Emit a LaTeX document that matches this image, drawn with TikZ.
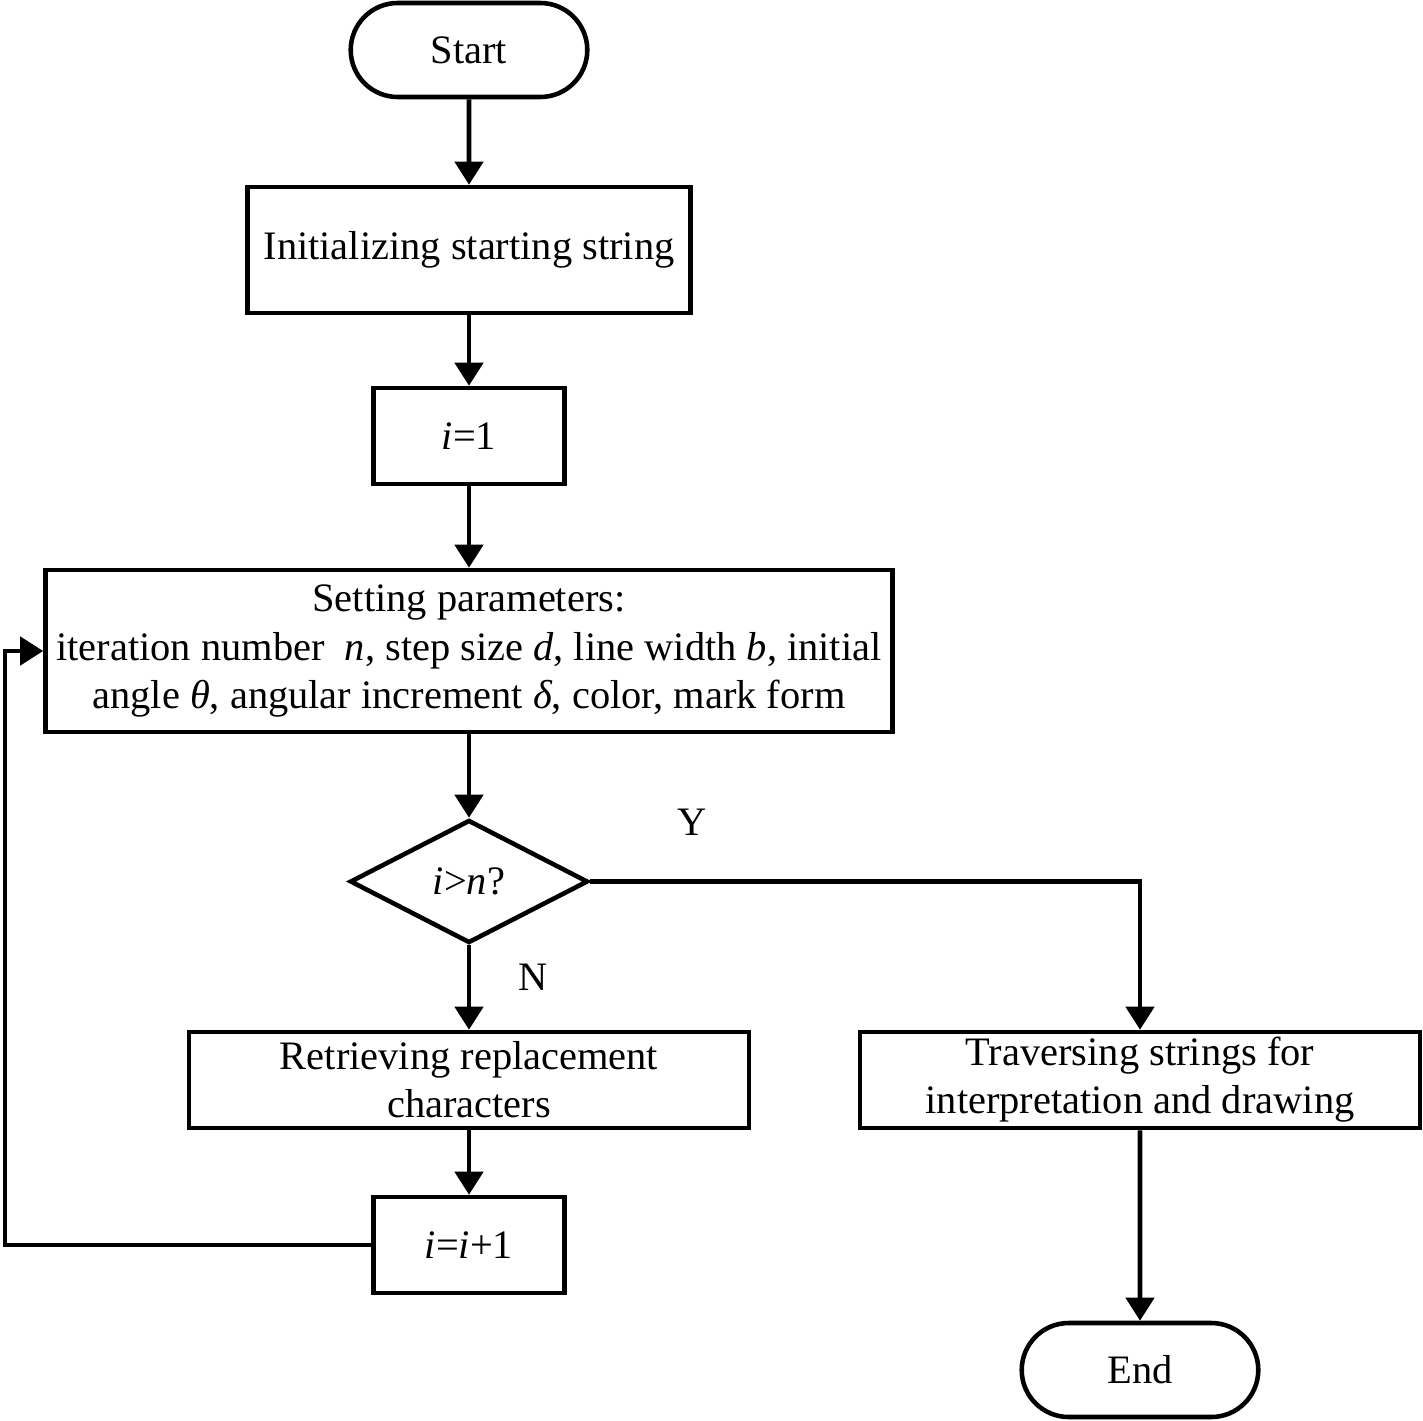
\documentclass[tikz,border=0pt]{standalone}
\usepackage{fontspec}
\setmainfont{Liberation Serif}
\usepackage{tikz}
\usetikzlibrary{positioning, arrows.meta, shapes.geometric, shapes.misc}

\begin{document}
\begin{tikzpicture}[
    font=\fontsize{11.5}{13.7}\selectfont,
    every node/.style={line width=1.3pt},
    terminal/.style={rounded rectangle, draw, minimum width=2.6cm, minimum height=0.94cm},
    process/.style={rectangle, draw, align=center, inner sep=0pt},
    decision/.style={diamond, draw, minimum width=2.38cm, minimum height=1.23cm, inner sep=0pt},
    arrow/.style={-{Triangle[length=0.23cm, width=0.28cm]}, line width=1.3pt}
]
\useasboundingbox (0,0) rectangle (14.23,-14.20);

\node[terminal] (start) at (4.69, -0.50) {Start};
\node[process, minimum width=4.43cm, minimum height=1.26cm] (init) at (4.69, -2.50) {Initializing starting string};
\node[process, minimum width=1.91cm, minimum height=0.96cm] (ione) at (4.69, -4.36) {\textit{i}=1};
\node[process, minimum width=8.47cm, minimum height=1.62cm] (params) at (4.69, -6.51)
    {Setting parameters:\\iteration number \ \textit{n}, step size \textit{d}, line width \textit{b}, initial\\angle \textit{θ}, angular increment \textit{δ}, color, mark form};
\node[decision] (check) at (4.69, -8.815) {\textit{i}>\textit{n}?};
\node[process, minimum width=5.60cm, minimum height=0.96cm] (retrieve) at (4.69, -10.80) {Retrieving replacement\\characters};
\node[process, minimum width=1.91cm, minimum height=0.96cm] (incr) at (4.69, -12.45) {\textit{i}=\textit{i}+1};
\node[process, minimum width=5.60cm, minimum height=0.96cm] (traverse) at (11.40, -10.80) {Traversing strings for\\interpretation and drawing};
\node[terminal] (finish) at (11.40, -13.70) {End};

\node (yes) at (6.92, -8.22) {Y};
\node (no) at (5.33, -9.77) {N};

\coordinate (loop) at (0.05, 0);

\draw[arrow] (start) -- (init);
\draw[arrow] (init) -- (ione);
\draw[arrow] (ione) -- (params);
\draw[arrow] (params) -- (check);
\draw[arrow] (check) -- (retrieve);
\draw[arrow] (retrieve) -- (incr);
\draw[arrow] (incr.west) -- (loop |- incr.west) |- (params.west);
\draw[arrow] (check.east) -| (traverse.north);
\draw[arrow] (traverse) -- (finish);

\end{tikzpicture}
\end{document}
